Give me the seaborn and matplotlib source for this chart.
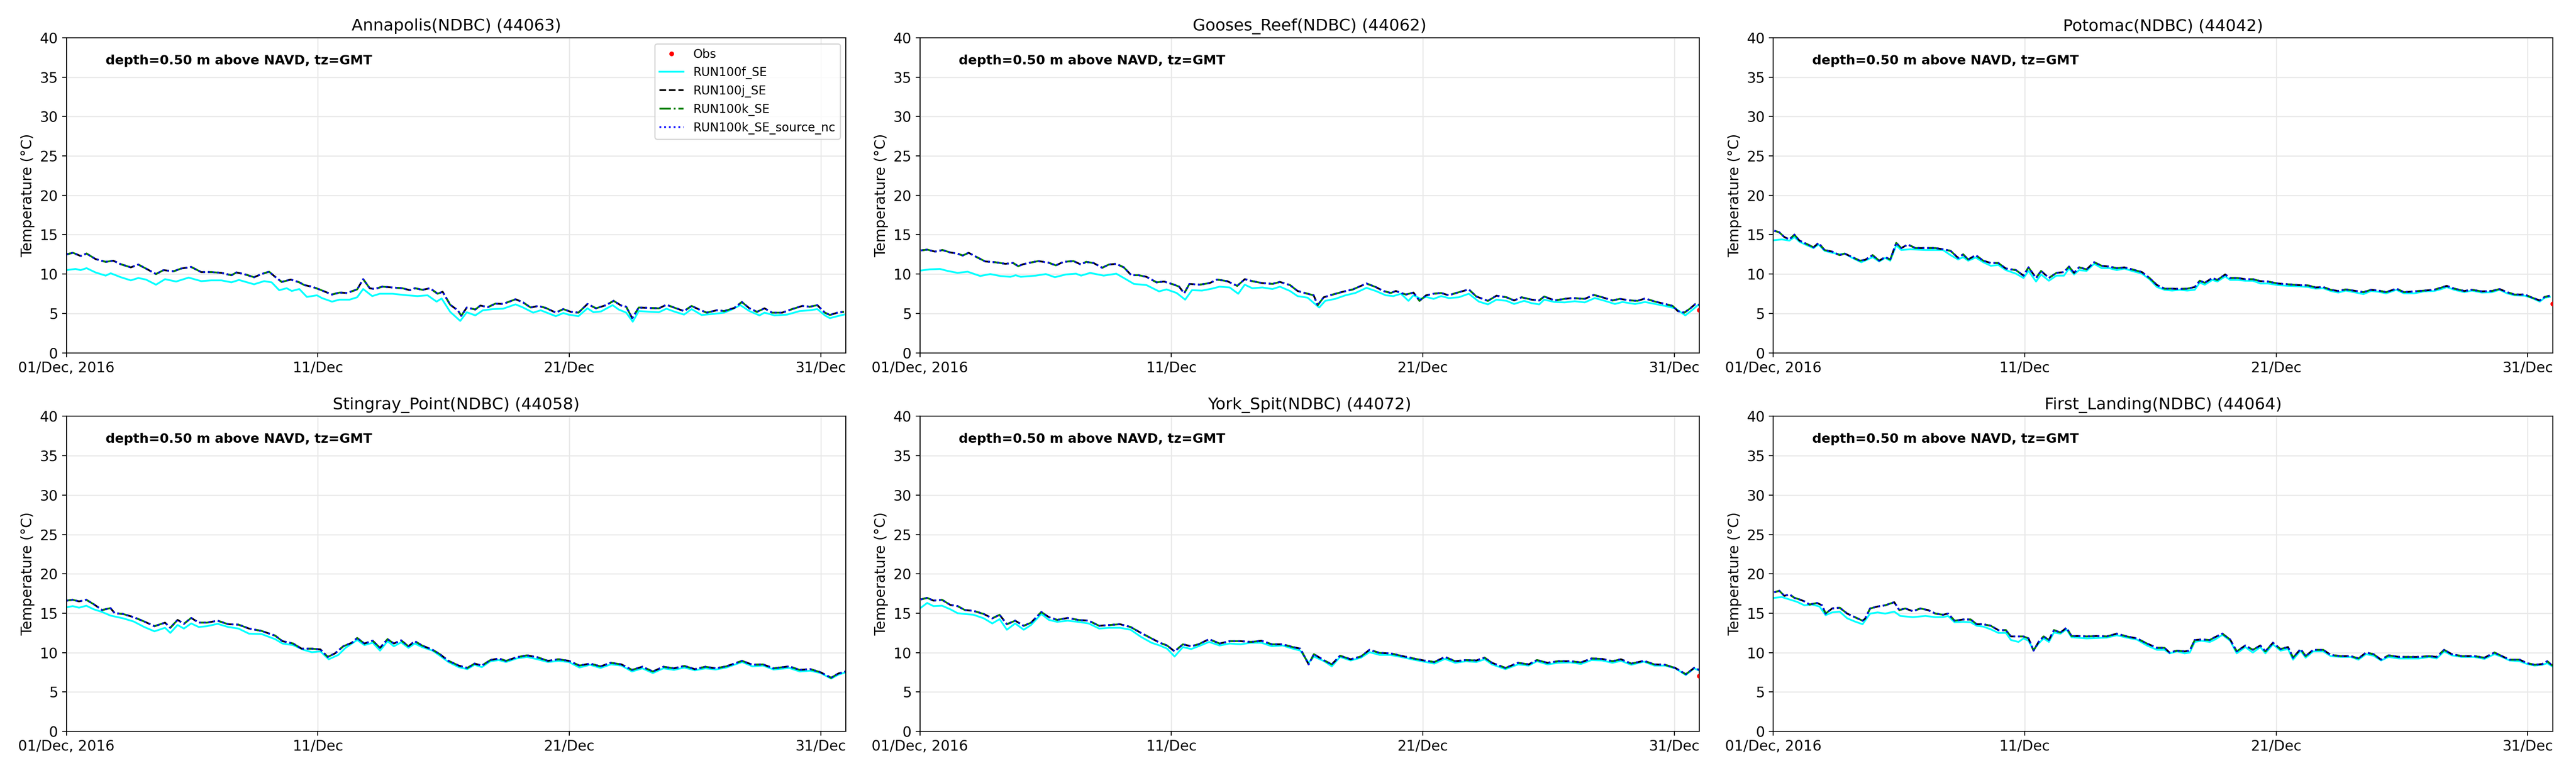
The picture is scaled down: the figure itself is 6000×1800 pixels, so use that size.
import numpy as np
import pandas as pd
import matplotlib
matplotlib.use("Agg")
import matplotlib.pyplot as plt
from matplotlib.lines import Line2D
import seaborn as sns

# ---------------- data (days since 2016-12-01 00:00 GMT, temperature degC) ----------------
TITLES = ["Annapolis(NDBC) (44063)", "Gooses_Reef(NDBC) (44062)", "Potomac(NDBC) (44042)",
          "Stingray_Point(NDBC) (44058)", "York_Spit(NDBC) (44072)", "First_Landing(NDBC) (44064)"]
SERIES_LABELS = ["Obs", "RUN100f_SE", "RUN100j_SE", "RUN100k_SE", "RUN100k_SE_source_nc"]
XTICK_DAYS = [0, 10, 20, 30]
XTICK_LABELS = ["01/Dec, 2016", "11/Dec", "21/Dec", "31/Dec"]
ANNOT = "depth=0.50 m above NAVD, tz=GMT"

# Annapolis
ANN_T_J = [0, 0.26, 0.56, 0.8, 1.16, 1.56, 1.86, 2.16, 2.56, 2.86,
           3.16, 3.56, 3.86, 4.26, 4.56, 4.96, 5.36, 5.76, 6.16, 6.56,
           6.76, 7.06, 7.46, 7.76, 8.06, 8.26, 8.56, 8.92, 9.26, 9.46,
           9.76, 10.06, 10.56, 10.86, 11.16, 11.56, 11.8, 12.06, 12.26, 12.56,
           12.96, 13.36, 13.66, 13.86, 14.16, 14.46, 14.76, 14.96, 15.26, 15.56,
           15.7, 15.92, 16.26, 16.46, 16.76, 17.06, 17.36, 17.86, 18.16, 18.46,
           18.76, 19.06, 19.46, 19.76, 20.06, 20.36, 20.72, 21.06, 21.46, 21.76,
           22.06, 22.26, 22.5, 22.76, 23.16, 23.56, 23.86, 24.16, 24.56, 24.86,
           25.16, 25.46, 25.86, 26.16, 26.56, 26.86, 27.16, 27.46, 27.76, 28.06,
           28.46, 28.86, 29.26, 29.56, 29.86, 30.16, 30.36, 30.66, 30.92]
ANN_J = [12.5, 12.7, 12.3, 12.6, 11.9, 11.55, 11.7, 11.25, 10.85, 11.2,
         10.7, 10.0, 10.5, 10.35, 10.7, 10.9, 10.25, 10.25, 10.15, 9.85,
         10.2, 10.0, 9.6, 10.0, 10.3, 9.75, 9.0, 9.3, 8.95, 8.6,
         8.4, 8.05, 7.4, 7.65, 7.6, 8.05, 9.35, 8.2, 8.1, 8.4,
         8.3, 8.2, 7.95, 8.2, 8.0, 8.2, 7.5, 7.75, 6.1, 5.4,
         4.7, 5.75, 5.5, 6.0, 5.8, 6.25, 6.2, 6.8, 6.4, 5.75,
         5.95, 5.7, 5.1, 5.55, 5.2, 5.1, 6.2, 5.65, 6.05, 6.6,
         6.0, 5.85, 4.4, 5.75, 5.7, 5.65, 6.1, 5.75, 5.3, 5.95,
         5.5, 5.1, 5.4, 5.3, 5.7, 6.45, 5.65, 5.2, 5.65, 5.1,
         5.1, 5.55, 5.95, 5.85, 6.05, 5.1, 4.8, 5.1, 5.2]
ANN_T_F = [0, 0.36, 0.56, 0.8, 1.16, 1.56, 1.76, 2.16, 2.56, 2.86,
           3.16, 3.56, 3.92, 4.36, 4.86, 5.36, 5.76, 6.16, 6.56, 6.86,
           7.46, 7.86, 8.16, 8.46, 8.76, 8.96, 9.26, 9.56, 9.96, 10.16,
           10.56, 10.86, 11.26, 11.56, 11.8, 12.16, 12.46, 12.96, 13.56, 13.96,
           14.36, 14.72, 14.92, 15.26, 15.66, 15.92, 16.26, 16.56, 16.96, 17.36,
           17.86, 18.16, 18.56, 18.86, 19.46, 19.76, 19.96, 20.36, 20.72, 20.96,
           21.26, 21.72, 21.96, 22.26, 22.52, 22.76, 23.26, 23.56, 23.86, 24.16,
           24.56, 24.86, 25.26, 25.76, 26.16, 26.46, 26.8, 27.16, 27.56, 27.76,
           28.16, 28.66, 29.16, 29.56, 29.86, 30.16, 30.36, 30.66, 30.92]
ANN_F = [10.5, 10.65, 10.5, 10.75, 10.2, 9.8, 10.1, 9.6, 9.2, 9.5,
         9.3, 8.65, 9.35, 9.05, 9.55, 9.1, 9.2, 9.2, 8.95, 9.25,
         8.7, 9.1, 8.95, 7.95, 8.2, 7.85, 8.1, 7.1, 7.3, 6.95,
         6.5, 6.75, 6.75, 7.05, 8.1, 7.2, 7.5, 7.5, 7.3, 7.2,
         7.3, 6.5, 6.9, 5.2, 4.05, 5.15, 4.75, 5.4, 5.55, 5.6,
         6.15, 5.75, 5.1, 5.4, 4.65, 5.05, 4.85, 4.65, 5.65, 5.15,
         5.25, 6.05, 5.5, 5.1, 3.95, 5.3, 5.2, 5.15, 5.6, 5.25,
         4.85, 5.55, 4.8, 4.95, 5.1, 5.5, 6.05, 5.3, 4.75, 5.1,
         4.75, 4.85, 5.3, 5.4, 5.55, 4.75, 4.4, 4.65, 4.85]
ANN_OBS_T = []
ANN_OBS = []

# Gooses Reef
GOO_T_J = [0.04, 0.3, 0.6, 0.9, 1.2, 1.5, 1.7, 1.94, 2.2, 2.6,
           3.0, 3.4, 3.71, 3.91, 4.11, 4.31, 4.71, 5.11, 5.41, 5.71,
           6.11, 6.41, 6.61, 6.91, 7.25, 7.51, 7.81, 8.11, 8.41, 8.71,
           9.01, 9.41, 9.71, 10.11, 10.31, 10.51, 10.72, 11.12, 11.52, 11.82,
           12.22, 12.62, 12.92, 13.22, 13.62, 14.02, 14.32, 14.72, 15.02, 15.42,
           15.66, 15.82, 16.06, 16.42, 16.82, 17.22, 17.76, 18.13, 18.43, 18.73,
           18.93, 19.13, 19.33, 19.63, 19.87, 20.13, 20.43, 20.73, 21.03, 21.33,
           21.83, 22.13, 22.59, 22.93, 23.33, 23.63, 23.93, 24.33, 24.63, 24.83,
           25.24, 25.64, 25.94, 26.44, 26.8, 27.14, 27.54, 27.84, 28.24, 28.54,
           28.84, 29.24, 29.64, 29.94, 30.14, 30.4, 30.64, 30.84, 31.0]
GOO_J = [13.0, 13.1, 12.85, 13.05, 12.75, 12.6, 12.35, 12.7, 12.25, 11.6,
         11.5, 11.3, 11.4, 11.0, 11.25, 11.4, 11.65, 11.45, 11.1, 11.55,
         11.65, 11.2, 11.55, 11.4, 10.8, 11.2, 11.3, 10.85, 9.85, 9.85,
         9.65, 8.95, 9.05, 8.65, 8.4, 7.55, 8.75, 8.65, 8.85, 9.3,
         9.1, 8.5, 9.35, 9.1, 8.85, 8.75, 9.0, 8.6, 7.85, 7.5,
         7.3, 6.05, 7.05, 7.4, 7.75, 8.05, 8.8, 8.35, 7.85, 7.6,
         7.85, 7.6, 7.4, 7.65, 6.6, 7.3, 7.5, 7.6, 7.3, 7.6,
         8.05, 7.15, 6.6, 7.25, 7.05, 6.65, 7.05, 6.75, 6.65, 7.15,
         6.65, 6.85, 6.95, 6.85, 7.35, 7.05, 6.65, 6.85, 6.65, 6.6,
         6.9, 6.5, 6.2, 5.95, 5.3, 5.1, 5.65, 6.2, 6.1]
GOO_T_F = [0.04, 0.4, 0.8, 1.1, 1.5, 1.9, 2.4, 2.8, 3.2, 3.6,
           3.81, 4.01, 4.61, 5.01, 5.37, 5.81, 6.21, 6.41, 6.77, 7.31,
           7.81, 8.11, 8.51, 9.01, 9.51, 9.81, 10.21, 10.55, 10.82, 11.22,
           11.62, 11.92, 12.32, 12.66, 12.92, 13.22, 13.62, 14.02, 14.32, 14.72,
           15.02, 15.42, 15.88, 16.12, 16.52, 16.92, 17.32, 17.76, 18.13, 18.53,
           18.83, 19.13, 19.43, 19.63, 19.93, 20.13, 20.43, 20.73, 21.03, 21.43,
           21.83, 22.23, 22.59, 22.93, 23.33, 23.63, 24.03, 24.33, 24.63, 24.83,
           25.24, 25.64, 26.04, 26.44, 26.84, 27.24, 27.64, 27.94, 28.44, 28.84,
           29.24, 29.64, 30.04, 30.44, 30.74, 30.94]
GOO_F = [10.45, 10.6, 10.65, 10.4, 10.15, 10.3, 9.75, 10.0, 9.75, 9.65,
         9.85, 9.65, 9.8, 10.0, 9.6, 9.95, 10.05, 9.8, 10.15, 9.8,
         10.05, 9.5, 8.75, 8.6, 7.8, 8.05, 7.6, 6.75, 7.95, 7.9,
         8.15, 8.4, 8.3, 7.5, 8.65, 8.2, 8.3, 8.1, 8.4, 7.85,
         7.2, 7.0, 5.75, 6.6, 6.85, 7.3, 7.6, 8.25, 7.85, 7.3,
         7.2, 7.5, 6.6, 7.3, 6.85, 7.1, 6.85, 7.2, 6.95, 7.05,
         7.5, 6.5, 6.15, 6.75, 6.6, 6.2, 6.6, 6.3, 6.15, 6.75,
         6.45, 6.4, 6.55, 6.4, 6.95, 6.6, 6.2, 6.45, 6.2, 6.45,
         6.2, 5.95, 5.65, 4.75, 5.5, 6.05]
GOO_OBS_T = [31.0]
GOO_OBS = [5.4]

# Potomac
POT_T_J = [0.04, 0.24, 0.44, 0.64, 0.84, 1.04, 1.34, 1.6, 1.8, 2.04,
           2.34, 2.64, 2.84, 3.14, 3.44, 3.65, 3.95, 4.21, 4.45, 4.65,
           4.89, 5.09, 5.35, 5.65, 6.05, 6.45, 6.75, 7.05, 7.35, 7.55,
           7.75, 8.05, 8.35, 8.65, 8.95, 9.25, 9.65, 9.95, 10.15, 10.45,
           10.65, 10.96, 11.26, 11.56, 11.76, 11.96, 12.16, 12.46, 12.76, 13.06,
           13.36, 13.66, 13.96, 14.26, 14.66, 14.96, 15.26, 15.56, 15.86, 16.16,
           16.46, 16.76, 16.96, 17.16, 17.46, 17.66, 17.97, 18.17, 18.47, 18.77,
           19.07, 19.37, 19.67, 20.07, 20.47, 20.87, 21.27, 21.57, 21.87, 22.17,
           22.47, 22.77, 23.17, 23.47, 23.77, 24.07, 24.37, 24.78, 25.08, 25.48,
           25.88, 26.28, 26.58, 26.78, 27.08, 27.48, 27.78, 28.18, 28.58, 28.88,
           29.18, 29.48, 29.88, 30.18, 30.48, 30.68, 30.88]
POT_J = [15.5, 15.3, 14.7, 14.4, 15.0, 14.25, 13.8, 13.4, 13.95, 13.05,
         12.85, 12.4, 12.6, 12.15, 11.7, 11.8, 12.4, 11.7, 12.15, 11.85,
         13.95, 13.3, 13.75, 13.3, 13.3, 13.3, 13.15, 12.95, 12.05, 12.5,
         11.85, 12.4, 11.7, 11.4, 11.4, 10.7, 10.5, 9.8, 10.85, 9.5,
         10.4, 9.5, 10.15, 10.25, 10.95, 10.15, 10.85, 10.6, 11.5, 11.05,
         10.95, 10.75, 10.85, 10.6, 10.25, 9.5, 8.6, 8.15, 8.15, 8.1,
         8.15, 8.35, 9.15, 8.9, 9.5, 9.25, 9.95, 9.5, 9.5, 9.35,
         9.35, 9.1, 9.05, 8.8, 8.7, 8.6, 8.55, 8.3, 8.35, 8.0,
         7.85, 8.05, 7.85, 7.7, 8.0, 7.9, 7.7, 8.15, 7.7, 7.8,
         7.9, 8.0, 8.3, 8.5, 8.15, 7.85, 8.0, 7.8, 7.85, 8.1,
         7.7, 7.4, 7.4, 7.0, 6.65, 7.1, 7.25]
POT_T_F = [0.04, 0.34, 0.64, 0.84, 1.04, 1.34, 1.6, 1.8, 2.04, 2.34,
           2.64, 2.84, 3.14, 3.5, 3.75, 3.95, 4.21, 4.45, 4.65, 4.89,
           5.09, 5.45, 6.05, 6.75, 7.05, 7.35, 7.55, 7.75, 8.05, 8.35,
           8.65, 8.95, 9.25, 9.65, 9.95, 10.15, 10.45, 10.65, 10.96, 11.26,
           11.56, 11.76, 11.96, 12.16, 12.46, 12.76, 13.06, 13.36, 13.66, 13.96,
           14.26, 14.66, 14.96, 15.26, 15.56, 15.86, 16.16, 16.46, 16.76, 16.96,
           17.16, 17.46, 17.66, 17.97, 18.17, 18.47, 18.77, 19.07, 19.37, 19.67,
           20.07, 20.47, 20.87, 21.27, 21.57, 21.87, 22.17, 22.47, 22.77, 23.17,
           23.47, 23.77, 24.07, 24.37, 24.78, 25.08, 25.48, 25.88, 26.28, 26.58,
           26.78, 27.08, 27.48, 27.78, 28.18, 28.58, 28.88, 29.18, 29.48, 29.88,
           30.18, 30.48, 30.68, 30.88]
POT_F = [14.3, 14.4, 14.25, 14.7, 14.1, 13.65, 13.3, 13.75, 12.95, 12.7,
         12.5, 12.6, 12.05, 11.5, 11.85, 12.15, 11.6, 12.05, 11.7, 13.65,
         13.05, 13.15, 13.05, 13.05, 12.4, 11.85, 12.15, 11.7, 12.1, 11.5,
         11.05, 11.15, 10.5, 10.05, 9.5, 10.4, 9.05, 9.95, 9.15, 9.8,
         9.8, 10.7, 9.95, 10.5, 10.4, 11.3, 10.75, 10.75, 10.5, 10.7,
         10.4, 10.05, 9.35, 8.35, 8.0, 7.9, 8.0, 7.9, 8.0, 8.9,
         8.65, 9.25, 9.05, 9.7, 9.25, 9.25, 9.15, 9.15, 8.8, 8.8,
         8.6, 8.5, 8.45, 8.35, 8.15, 8.2, 7.85, 7.65, 7.9, 7.65,
         7.45, 7.85, 7.75, 7.55, 8.0, 7.55, 7.55, 7.8, 7.85, 8.1,
         8.35, 8.0, 7.7, 7.9, 7.65, 7.7, 8.0, 7.55, 7.3, 7.25,
         6.95, 6.5, 7.0, 7.1]
POT_OBS_T = [31.0]
POT_OBS = [6.2]

# Stingray Point
STI_T_J = [0, 0.25, 0.5, 0.79, 1.08, 1.42, 1.75, 1.92, 2.25, 2.67,
           3.09, 3.5, 3.92, 4.13, 4.42, 4.67, 4.96, 5.26, 5.59, 6.01,
           6.43, 6.84, 7.26, 7.76, 8.3, 8.59, 9.01, 9.35, 9.76, 10.1,
           10.39, 10.68, 11.01, 11.35, 11.56, 11.85, 12.18, 12.47, 12.77, 13.02,
           13.31, 13.6, 13.85, 14.14, 14.56, 14.85, 15.19, 15.6, 15.94, 16.23,
           16.52, 16.86, 17.19, 17.48, 17.9, 18.31, 18.73, 19.15, 19.57, 19.98,
           20.4, 20.82, 21.24, 21.65, 22.07, 22.49, 22.9, 23.32, 23.74, 24.16,
           24.57, 24.99, 25.41, 25.82, 26.24, 26.87, 27.28, 27.7, 28.12, 28.74,
           29.16, 29.58, 29.99, 30.41, 30.7, 31.0]
STI_J = [16.6, 16.7, 16.5, 16.7, 16.15, 15.4, 15.65, 15.0, 14.9, 14.5,
         13.95, 13.35, 13.8, 13.15, 14.15, 13.65, 14.4, 13.8, 13.8, 14.05,
         13.6, 13.55, 13.05, 12.75, 12.15, 11.45, 11.15, 10.5, 10.5, 10.4,
         9.45, 9.9, 10.8, 11.25, 11.85, 11.15, 11.5, 10.6, 11.7, 11.15,
         11.55, 10.8, 11.45, 10.9, 10.35, 9.8, 8.95, 8.35, 8.05, 8.6,
         8.35, 9.05, 9.25, 8.95, 9.4, 9.65, 9.4, 8.95, 9.15, 8.95,
         8.35, 8.6, 8.25, 8.7, 8.5, 7.8, 8.2, 7.6, 8.2, 8.0,
         8.3, 7.9, 8.2, 8.0, 8.25, 8.95, 8.45, 8.5, 8.0, 8.25,
         7.8, 7.9, 7.5, 6.8, 7.35, 7.6]
STI_T_F = [0, 0.25, 0.5, 0.79, 1.08, 1.42, 1.75, 2.25, 2.67, 3.09,
           3.5, 3.92, 4.13, 4.42, 4.67, 4.96, 5.26, 5.59, 6.01, 6.43,
           6.84, 7.26, 7.76, 8.3, 8.59, 9.01, 9.43, 9.76, 10.1, 10.43,
           10.81, 11.1, 11.56, 11.85, 12.18, 12.47, 12.77, 13.02, 13.31, 13.6,
           13.85, 14.14, 14.56, 14.85, 15.19, 15.6, 15.94, 16.23, 16.52, 16.86,
           17.19, 17.48, 17.9, 18.31, 18.73, 19.15, 19.57, 19.98, 20.4, 20.82,
           21.24, 21.65, 22.07, 22.49, 22.9, 23.32, 23.74, 24.16, 24.57, 24.99,
           25.41, 25.82, 26.24, 26.87, 27.28, 27.7, 28.12, 28.74, 29.16, 29.58,
           29.99, 30.41, 30.7, 31.0]
STI_F = [15.75, 15.9, 15.7, 15.95, 15.5, 15.15, 14.7, 14.35, 13.95, 13.25,
         12.7, 13.15, 12.5, 13.5, 13.05, 13.7, 13.25, 13.35, 13.65, 13.25,
         13.05, 12.4, 12.35, 11.7, 11.15, 10.95, 10.35, 10.05, 10.15, 9.15,
         9.7, 10.6, 11.6, 10.95, 11.25, 10.25, 11.45, 10.8, 11.3, 10.6,
         11.15, 10.7, 10.25, 9.6, 8.8, 8.15, 7.9, 8.45, 8.15, 8.9,
         9.05, 8.8, 9.25, 9.45, 9.15, 8.8, 8.95, 8.8, 8.1, 8.45,
         8.05, 8.5, 8.35, 7.6, 8.0, 7.4, 8.0, 7.8, 8.1, 7.75,
         8.0, 7.85, 8.1, 8.8, 8.25, 8.35, 7.85, 8.05, 7.6, 7.7,
         7.4, 6.7, 7.2, 7.5]
STI_OBS_T = []
STI_OBS = []

# York Spit
YOR_T = [0.04, 0.29, 0.54, 0.88, 1.21, 1.5, 1.79, 2.13, 2.54, 2.88,
         3.17, 3.46, 3.79, 4.13, 4.42, 4.83, 5.13, 5.46, 5.88, 6.29,
         6.71, 7.13, 7.54, 7.96, 8.38, 8.79, 9.21, 9.54, 9.83, 10.13,
         10.46, 10.79, 11.08, 11.5, 11.92, 12.33, 12.75, 13.17, 13.58, 14.0,
         14.42, 14.83, 15.13, 15.46, 15.67, 16.08, 16.38, 16.71, 17.13, 17.54,
         17.88, 18.29, 18.71, 19.13, 19.63, 20.04, 20.46, 20.88, 21.29, 21.71,
         22.13, 22.46, 22.75, 23.29, 23.79, 24.21, 24.54, 24.96, 25.38, 25.88,
         26.29, 26.71, 27.13, 27.54, 27.88, 28.29, 28.79, 29.21, 29.63, 30.04,
         30.46, 30.79, 31.0]
YOR_J = [16.75, 16.95, 16.6, 16.7, 16.05, 15.9, 15.4, 15.3, 14.9, 14.35,
         14.8, 13.6, 14.05, 13.4, 13.8, 15.15, 14.5, 14.15, 14.4, 14.15,
         14.05, 13.4, 13.5, 13.6, 13.25, 12.5, 11.8, 11.25, 10.9, 10.15,
         11.05, 10.8, 11.05, 11.7, 11.15, 11.45, 11.45, 11.35, 11.5, 11.05,
         11.05, 10.7, 10.5, 8.5, 9.8, 9.0, 8.5, 9.6, 9.15, 9.5,
         10.35, 9.95, 9.9, 9.6, 9.25, 9.0, 8.8, 9.45, 8.9, 9.05,
         9.0, 9.35, 8.7, 8.05, 8.7, 8.5, 9.05, 8.7, 8.9, 8.9,
         8.75, 9.25, 9.2, 8.9, 9.15, 8.6, 8.95, 8.5, 8.45, 8.05,
         7.25, 8.05, 7.8]
YOR_F = [15.7, 16.3, 15.9, 15.95, 15.5, 15.0, 14.9, 14.8, 14.35, 13.7,
         14.25, 12.9, 13.7, 12.9, 13.5, 14.9, 14.15, 13.9, 14.05, 13.9,
         13.7, 13.05, 13.15, 13.15, 12.9, 12.0, 11.25, 10.9, 10.5, 9.5,
         10.7, 10.45, 10.8, 11.35, 10.9, 11.15, 11.05, 11.25, 11.25, 10.8,
         10.9, 10.5, 10.25, 8.7, 9.5, 8.9, 8.25, 9.45, 9.0, 9.35,
         10.05, 9.7, 9.7, 9.45, 9.1, 8.85, 8.6, 9.2, 8.7, 8.9,
         8.8, 9.15, 8.5, 7.9, 8.5, 8.35, 8.9, 8.5, 8.7, 8.75,
         8.55, 9.05, 9.0, 8.7, 8.95, 8.45, 8.85, 8.35, 8.35, 8.0,
         7.15, 8.0, 7.7]
YOR_OBS_T = [31.0]
YOR_OBS = [7.0]

# First Landing
FIR_T_J = [0.04, 0.24, 0.44, 0.64, 0.84, 1.04, 1.24, 1.44, 1.74, 1.94,
           2.08, 2.34, 2.64, 2.94, 3.24, 3.55, 3.65, 3.85, 4.15, 4.45,
           4.81, 5.01, 5.25, 5.55, 5.85, 6.15, 6.45, 6.75, 6.95, 7.21,
           7.55, 7.85, 8.09, 8.35, 8.65, 8.95, 9.25, 9.45, 9.75, 9.95,
           10.15, 10.35, 10.55, 10.75, 10.96, 11.16, 11.42, 11.66, 11.86, 12.16,
           12.46, 12.86, 13.26, 13.66, 14.06, 14.46, 14.86, 15.26, 15.56, 15.76,
           16.06, 16.36, 16.56, 16.76, 17.02, 17.36, 17.56, 17.86, 18.17, 18.43,
           18.77, 19.07, 19.37, 19.57, 19.87, 20.17, 20.47, 20.67, 20.97, 21.17,
           21.47, 21.87, 22.17, 22.57, 22.97, 23.27, 23.57, 23.87, 24.17, 24.47,
           24.88, 25.28, 25.68, 26.08, 26.38, 26.68, 26.98, 27.38, 27.88, 28.28,
           28.68, 28.98, 29.28, 29.68, 29.98, 30.28, 30.58, 30.78, 30.98]
FIR_J = [17.65, 17.85, 17.2, 17.4, 16.95, 16.75, 16.5, 16.1, 16.3, 16.0,
         14.95, 15.6, 15.7, 14.95, 14.5, 14.05, 14.3, 15.6, 15.85, 16.0,
         16.4, 15.4, 15.6, 15.25, 15.6, 15.4, 14.95, 14.8, 14.95, 14.05,
         14.2, 14.2, 13.6, 13.6, 13.4, 12.85, 12.85, 12.05, 12.05, 12.05,
         11.8, 10.25, 11.35, 12.05, 11.6, 12.85, 12.55, 13.15, 12.1, 12.1,
         12.05, 12.1, 12.05, 12.4, 12.05, 11.8, 11.15, 10.6, 10.6, 10.0,
         10.25, 10.15, 10.25, 11.6, 11.65, 11.6, 11.95, 12.4, 11.65, 10.15,
         10.9, 10.35, 10.9, 10.15, 11.25, 10.45, 10.7, 9.35, 10.45, 9.55,
         10.35, 10.35, 9.7, 9.55, 9.55, 9.25, 10.0, 9.8, 9.1, 9.65,
         9.45, 9.45, 9.45, 9.55, 9.45, 10.35, 9.8, 9.55, 9.55, 9.35,
         10.0, 9.55, 9.1, 9.1, 8.65, 8.45, 8.55, 8.9, 8.35]
FIR_T_F = [0.04, 0.34, 0.64, 0.94, 1.24, 1.54, 1.84, 2.08, 2.34, 2.64,
           2.94, 3.24, 3.55, 3.85, 4.15, 4.45, 4.81, 5.05, 5.55, 6.05,
           6.45, 6.75, 6.95, 7.21, 7.55, 7.85, 8.09, 8.35, 8.65, 8.95,
           9.25, 9.45, 9.75, 9.95, 10.15, 10.35, 10.55, 10.75, 10.96, 11.16,
           11.42, 11.66, 11.86, 12.46, 13.26, 13.66, 14.06, 14.46, 14.86, 15.26,
           15.56, 15.76, 16.06, 16.36, 16.56, 16.76, 17.02, 17.36, 17.56, 17.86,
           18.17, 18.43, 18.77, 19.07, 19.37, 19.57, 19.87, 20.17, 20.47, 20.67,
           20.97, 21.17, 21.47, 21.87, 22.17, 22.57, 22.97, 23.27, 23.57, 23.87,
           24.17, 24.47, 24.88, 25.28, 25.68, 26.08, 26.38, 26.68, 26.98, 27.38,
           27.88, 28.28, 28.68, 28.98, 29.28, 29.68, 29.98, 30.28, 30.58, 30.78,
           30.98]
FIR_F = [16.95, 17.05, 16.75, 16.45, 16.0, 16.1, 15.85, 14.75, 15.1, 15.2,
         14.35, 13.95, 13.6, 14.95, 15.1, 14.95, 15.2, 14.65, 14.5, 14.65,
         14.5, 14.5, 14.65, 13.85, 13.9, 13.85, 13.4, 13.3, 12.95, 12.5,
         12.5, 11.6, 11.35, 11.8, 11.5, 10.35, 11.15, 11.8, 11.35, 12.55,
         12.4, 12.95, 11.95, 11.8, 11.9, 12.2, 11.9, 11.65, 10.9, 10.35,
         10.35, 9.9, 10.15, 9.9, 10.0, 11.35, 11.5, 11.35, 11.65, 12.25,
         11.5, 9.9, 10.7, 10.0, 10.7, 9.9, 11.05, 10.25, 10.45, 9.1,
         10.25, 9.35, 10.15, 10.15, 9.55, 9.45, 9.45, 9.1, 9.8, 9.6,
         9.0, 9.45, 9.25, 9.25, 9.25, 9.45, 9.25, 10.15, 9.65, 9.45,
         9.45, 9.2, 9.8, 9.45, 9.0, 8.9, 8.55, 8.35, 8.45, 8.65,
         8.25]
FIR_OBS_T = []
FIR_OBS = []

STATIONS = [
    (ANN_OBS_T, ANN_OBS, ANN_T_F, ANN_F, ANN_T_J, ANN_J),
    (GOO_OBS_T, GOO_OBS, GOO_T_F, GOO_F, GOO_T_J, GOO_J),
    (POT_OBS_T, POT_OBS, POT_T_F, POT_F, POT_T_J, POT_J),
    (STI_OBS_T, STI_OBS, STI_T_F, STI_F, STI_T_J, STI_J),
    (YOR_OBS_T, YOR_OBS, YOR_T, YOR_F, YOR_T, YOR_J),
    (FIR_OBS_T, FIR_OBS, FIR_T_F, FIR_F, FIR_T_J, FIR_J),
]

# ---------------- plotting ----------------
START = pd.Timestamp("2016-12-01")
END = pd.Timestamp("2017-01-01")


def to_time(days):
    return START + pd.to_timedelta(np.asarray(days, dtype=float), unit="D")


plt.rcParams["font.family"] = ["DejaVu Sans"]
fig, axes = plt.subplots(2, 3, figsize=(30, 9), dpi=200)
fig.subplots_adjust(left=0.0258, right=0.991, top=0.9511, bottom=0.0539,
                    wspace=0.0948, hspace=0.2016)

LW = 1.5
styles = [
    dict(color="cyan", linestyle="-"),
    dict(color="black", linestyle="--"),
    dict(color="green", linestyle="-."),
    dict(color="blue", linestyle=":"),
]

for i, ax in enumerate(axes.flat):
    obs_t, obs_v, tf, vf, tj, vj = STATIONS[i]
    ax.set_axisbelow(True)
    ax.grid(True, color="#e8e8e8", linewidth=0.9)
    if len(obs_t):
        sns.scatterplot(x=to_time(obs_t), y=obs_v, ax=ax, color="red", s=16,
                        edgecolor="none", zorder=3, legend=False)
    series = [(tf, vf), (tj, vj), (tj, vj), (tj, vj)]
    for (tt, vv), st in zip(series, styles):
        sns.lineplot(x=to_time(tt), y=vv, ax=ax, linewidth=LW, estimator=None,
                     sort=False, legend=False, **st)
    ax.set_xlim(START, END)
    ax.set_ylim(0, 40)
    ax.set_yticks(np.arange(0, 41, 5))
    ax.set_xticks(to_time(XTICK_DAYS))
    ax.set_xticklabels(XTICK_LABELS)
    ax.tick_params(labelsize=12)
    ax.set_ylabel("Temperature (\u00b0C)", fontsize=12)
    ax.set_xlabel("")
    ax.set_title(TITLES[i], fontsize=13.7)
    ax.text(0.05, 0.947, ANNOT, transform=ax.transAxes, fontsize=11,
            fontweight="bold", va="top", ha="left")
    for sp in ax.spines.values():
        sp.set_color("black")
        sp.set_linewidth(0.8)

handles = [Line2D([], [], color="red", marker="o", linestyle="none", markersize=4,
                  markeredgewidth=0)]
for st in styles:
    handles.append(Line2D([], [], linewidth=LW, **st))
axes[0, 0].legend(handles, SERIES_LABELS, loc="upper right", fontsize=10)

fig.savefig("out.png", dpi=200)
